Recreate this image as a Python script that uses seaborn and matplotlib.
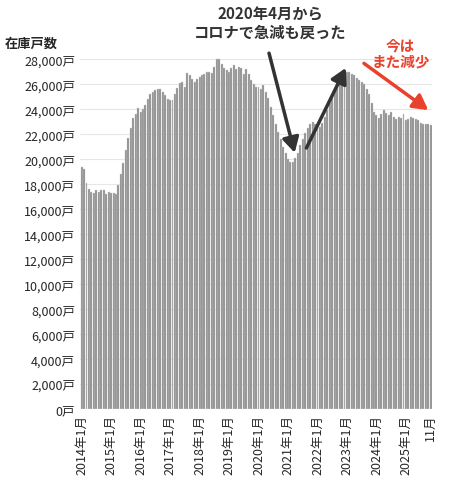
import matplotlib
matplotlib.use("Agg")
import matplotlib.pyplot as plt
import seaborn as sns
import pandas as pd

sns.set_style("white")
plt.rcParams['font.family'] = ['Noto Sans CJK JP', 'DejaVu Sans']

y2014 = [19400,19200,18100,17600,17400,17300,17500,17400,17500,17500,17200,17400]
y2015 = [17300,17300,17200,17900,18800,19700,20700,21700,22500,23300,23600,24100]
y2016 = [23800,24000,24300,24800,25200,25400,25500,25600,25600,25400,25100,24800]
y2017 = [24700,24700,25200,25700,26100,26200,25800,26900,26700,26400,26200,26400]
y2018 = [26600,26700,26800,27000,27000,26900,27400,28000,28000,27600,27300,27100]
y2019 = [27000,27300,27500,27200,27400,27300,26800,27200,26800,26300,26000,25800]
y2020 = [25800,25600,25900,25400,24900,24200,23500,22800,22200,21600,21000,20500]
y2021 = [20000,19800,19800,20100,20500,21100,21600,22100,22500,22800,23000,22800]
y2022 = [22700,22600,22900,23400,23900,24500,25100,25600,26200,26600,26900,27000]
y2023 = [27000,27000,26800,26700,26500,26300,26200,26000,25600,25200,24500,23800]
y2024 = [23500,23300,23600,23900,23700,23500,23800,23400,23200,23400,23300,23600]
y2025 = [23100,23200,23400,23300,23200,23100,22900,22800,22800,22800,22700]

years = list(range(2014, 2026))
series = [y2014,y2015,y2016,y2017,y2018,y2019,y2020,y2021,y2022,y2023,y2024,y2025]
months, values = [], []
for yr, vals in zip(years, series):
    for m, v in enumerate(vals, 1):
        months.append(f"{yr}年{m}月")
        values.append(v)
df = pd.DataFrame({"month": months, "stock": values})

fig = plt.figure(figsize=(4.5, 5.02), dpi=100)
ax = fig.add_axes([0.178, 0.183, 0.782, 0.707])
sns.barplot(data=df, x="month", y="stock", color="#8a8a8a", saturation=1,
            edgecolor="#d0d0d0", linewidth=0.3, width=0.8, ax=ax)
ax.set_ylim(0, 28400)
ax.set_xlim(-0.6, len(df) - 0.4)
yt = list(range(0, 28001, 2000))
ax.set_yticks(yt)
ax.set_yticklabels([f"{v:,}戸" for v in yt], fontsize=9)
ticks = [i for i, m in enumerate(months) if m.endswith("年1月")] + [len(months) - 1]
labels = [months[i] for i in ticks[:-1]] + ["11月"]
ax.set_xticks(ticks)
ax.set_xticklabels(labels, rotation=90, fontsize=9)
ax.tick_params(length=0)
ax.yaxis.grid(True, color="#e6e6e6", linewidth=0.8)
ax.set_axisbelow(True)
for s in ax.spines.values():
    s.set_visible(False)
ax.set_xlabel("")
ax.set_ylabel("")
fig.text(0.01, 0.905, "在庫戸数", fontsize=9.5, fontweight="bold")

ax.annotate("", xy=(87, 20300), xytext=(76, 28700),
            arrowprops=dict(arrowstyle="-|>,head_width=0.5,head_length=0.9", color="#333333", lw=2.5),
            annotation_clip=False)
ax.annotate("", xy=(108, 27500), xytext=(91, 20700),
            arrowprops=dict(arrowstyle="-|>,head_width=0.5,head_length=0.9", color="#333333", lw=2.5),
            annotation_clip=False)
ax.annotate("", xy=(142, 23800), xytext=(114, 27800),
            arrowprops=dict(arrowstyle="-|>,head_width=0.5,head_length=0.9", color="#e8412c", lw=2.5),
            annotation_clip=False)
fig.text(0.6, 0.972, "2020年4月から", ha="center", va="center", fontsize=11, fontweight="bold", color="#333333")
fig.text(0.6, 0.934, "コロナで急減も戻った", ha="center", va="center", fontsize=11, fontweight="bold", color="#333333")
fig.text(0.89, 0.91, "今は", ha="center", va="center", fontsize=10.5, fontweight="bold", color="#e8412c")
fig.text(0.89, 0.877, "また減少", ha="center", va="center", fontsize=10.5, fontweight="bold", color="#e8412c")

fig.savefig("out.png", dpi=100)
